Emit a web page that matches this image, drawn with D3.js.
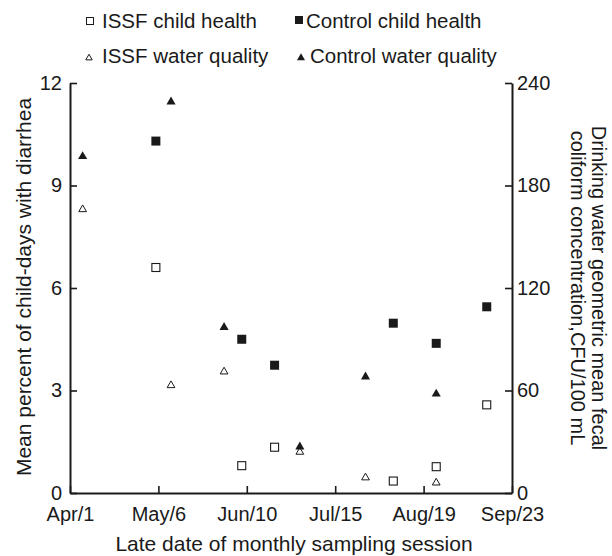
<!DOCTYPE html>
<html>
<head>
<meta charset="utf-8">
<script src="https://cdn.jsdelivr.net/npm/d3@7"></script>
<style>
  body { margin: 0; background: #fff; }
  svg { display: block; font-family: "Liberation Sans", Arial, sans-serif; }
</style>
</head>
<body>
<script>
// days counted from Apr/1
const xTickDays = [0, 35, 70, 105, 140, 175];
const xTickLabels = ["Apr/1", "May/6", "Jun/10", "Jul/15", "Aug/19", "Sep/23"];
const leftTicks = [0, 3, 6, 9, 12];
const rightTicks = [0, 60, 120, 180, 240];

// child health (left axis, %)
const healthDays = [34, 68, 81, 128, 145, 165];
const issfHealth = [6.6, 0.8, 1.34, 0.35, 0.77, 2.58];
const controlHealth = [10.3, 4.5, 3.74, 4.97, 4.38, 5.45];

// water quality (right axis, CFU/100 mL)
const waterDays = [5, 40, 61, 91, 117, 145];
const issfWater = [166, 63, 71, 24, 9, 6];
const controlWater = [197, 229, 97, 27, 68, 58];

var width = 612, height = 556;
var ink = "#1a1a1a";

var svg = d3.select("body").append("svg")
  .attr("width", width)
  .attr("height", height);

var x = d3.scaleLinear().domain([0, 175]).range([70, 512]);
var yL = d3.scaleLinear().domain([0, 12]).range([493, 83]);
var yR = d3.scaleLinear().domain([0, 240]).range([493, 83]);

var tri = d3.symbol().type(d3.symbolTriangle);

// axes
var gx = svg.append("g")
  .attr("transform", "translate(0," + yL(0) + ")")
  .call(d3.axisBottom(x).tickValues(xTickDays)
    .tickFormat(function(d, i) { return xTickLabels[i]; })
    .tickSizeInner(-7).tickSizeOuter(0).tickPadding(14));

var gl = svg.append("g")
  .attr("transform", "translate(" + x(0) + ",0)")
  .call(d3.axisLeft(yL).tickValues(leftTicks)
    .tickSizeInner(-7).tickSizeOuter(0).tickPadding(8));

var gr = svg.append("g")
  .attr("transform", "translate(" + x(175) + ",0)")
  .call(d3.axisRight(yR).tickValues(rightTicks)
    .tickSizeInner(-7).tickSizeOuter(0).tickPadding(5));

[gx, gl, gr].forEach(function(g) {
  g.select(".domain").attr("stroke", ink).attr("stroke-width", 2);
  g.selectAll(".tick line").attr("stroke", ink).attr("stroke-width", 1.6);
  g.selectAll(".tick text").attr("fill", ink).style("font-size", "20px");
});

// axis titles
svg.append("text")
  .attr("transform", "translate(" + 31 + "," + 287 + ") rotate(-90)")
  .attr("text-anchor", "middle")
  .attr("fill", ink)
  .style("font-size", "21px")
  .text("Mean percent of child-days with diarrhea");

var rt = svg.append("text")
  .attr("transform", "translate(" + 592 + "," + 288 + ") rotate(90)")
  .attr("text-anchor", "middle")
  .attr("fill", ink)
  .style("font-size", "20px");
rt.append("tspan").attr("x", 0).attr("y", 0)
  .text("Drinking water geometric mean fecal");
rt.append("tspan").attr("x", 0).attr("y", 21)
  .text("coliform concentration,CFU/100 mL");

svg.append("text")
  .attr("x", 294).attr("y", 551)
  .attr("text-anchor", "middle")
  .attr("fill", ink)
  .style("font-size", "21px")
  .text("Late date of monthly sampling session");

// points
var issfH = healthDays.map(function(d, i) { return [d, issfHealth[i]]; });
var ctrlH = healthDays.map(function(d, i) { return [d, controlHealth[i]]; });
var issfW = waterDays.map(function(d, i) { return [d, issfWater[i]]; });
var ctrlW = waterDays.map(function(d, i) { return [d, controlWater[i]]; });

svg.append("g").selectAll("rect")
  .data(issfH).enter().append("rect")
  .attr("x", function(d) { return x(d[0]) - 4; })
  .attr("y", function(d) { return yL(d[1]) - 4; })
  .attr("width", 8).attr("height", 8)
  .attr("fill", "#fff").attr("stroke", ink).attr("stroke-width", 1.1);

svg.append("g").selectAll("rect")
  .data(ctrlH).enter().append("rect")
  .attr("x", function(d) { return x(d[0]) - 4.5; })
  .attr("y", function(d) { return yL(d[1]) - 4.5; })
  .attr("width", 9).attr("height", 9)
  .attr("fill", ink);

svg.append("g").selectAll("path")
  .data(issfW).enter().append("path")
  .attr("d", tri.size(26))
  .attr("transform", function(d) { return "translate(" + x(d[0]) + "," + yR(d[1]) + ")"; })
  .attr("fill", "#fff").attr("stroke", ink).attr("stroke-width", 1);

svg.append("g").selectAll("path")
  .data(ctrlW).enter().append("path")
  .attr("d", tri.size(36))
  .attr("transform", function(d) { return "translate(" + x(d[0]) + "," + yR(d[1]) + ")"; })
  .attr("fill", ink);

// legend
var leg = svg.append("g").attr("fill", ink).style("font-size", "20.5px");
leg.append("rect").attr("x", 86.5).attr("y", 17.5).attr("width", 7).attr("height", 7)
  .attr("fill", "#fff").attr("stroke", ink).attr("stroke-width", 1);
leg.append("text").attr("x", 102).attr("y", 28).text("ISSF child health");
leg.append("rect").attr("x", 295).attr("y", 16).attr("width", 8).attr("height", 8);
leg.append("text").attr("x", 306).attr("y", 28).text("Control child health");
leg.append("path").attr("d", tri.size(18))
  .attr("transform", "translate(89,58)")
  .attr("fill", "#fff").attr("stroke", ink).attr("stroke-width", 1);
leg.append("path").attr("d", tri.size(28))
  .attr("transform", "translate(301,58)");
leg.append("text").attr("x", 102).attr("y", 63).text("ISSF water quality");
leg.append("text").attr("x", 310).attr("y", 63).text("Control water quality");
</script>
</body>
</html>
